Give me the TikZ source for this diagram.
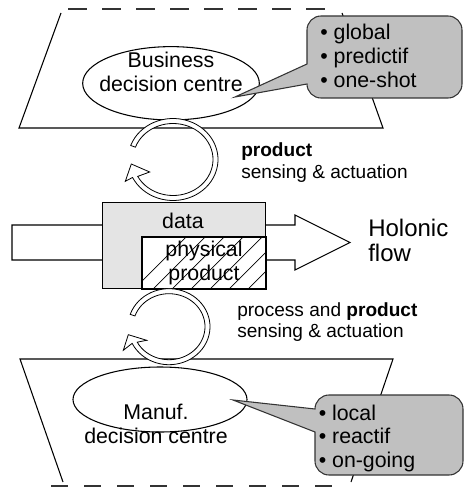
\documentclass[tikz,border=0pt]{standalone}
\usepackage{fontspec}
\setmainfont{Liberation Sans}
\usetikzlibrary{calc,shapes.geometric}
\definecolor{calloutgray}{RGB}{192,192,192}
\definecolor{boxgray}{RGB}{228,228,228}
\begin{document}
\begin{tikzpicture}[x=0.75pt,y=-0.75pt,
  lineS/.style={draw=black, line width=0.8pt},
  dashS/.style={draw=black!80, line width=1.2pt},
  ringS/.style={draw=black, fill=white, line width=0.6pt},
  calloutS/.style={draw=black!80, fill=calloutgray, line width=0.8pt},
  ellS/.style={ellipse, draw=black, line width=0.8pt, inner sep=0pt},
  tBig/.style={inner sep=0pt, font=\fontsize{16}{18}\selectfont},
  tLbl/.style={inner sep=0pt, anchor=base west, font=\fontsize{14.3}{16}\selectfont},
  tHol/.style={inner sep=0pt, anchor=base west, font=\fontsize{18}{20}\selectfont},
  hatchS/.style={draw=black, line width=0.6pt}
]
\useasboundingbox (0,0) rectangle (464,488);

% top trapezoid
\draw[lineS] (61,13) -- (19,128) -- (383,128) -- (342,13);
\draw[dashS, dash pattern=on 14.25pt off 11.25pt] (68,9) -- (326,9);
% bottom trapezoid
\draw[lineS] (63,482) -- (20,359) -- (393,359) -- (351,482);
\draw[dashS, dash pattern=on 12.75pt off 12pt] (51,486) -- (332,486);

% ellipses
\node[ellS, minimum width=132.5pt, minimum height=55pt] (bdc) at (171,83.3) {};
\node[tBig, anchor=base] (bdcA) at (171,68) {Business};
\node[tBig, anchor=base] (bdcB) at (171,92) {decision centre};
\node[ellS, minimum width=130.5pt, minimum height=48.75pt] (mdc) at (160,399.5) {};
\node[tBig, anchor=base] (mdcA) at (156,419) {Manuf.};
\node[tBig, anchor=base] (mdcB) at (156,443.3) {decision centre};

% holonic flow block arrow
\draw[lineS, fill=white] (12,225) -- (295,225) -- (295,215) -- (350,242.5) -- (295,270) -- (295,260) -- (12,260) -- cycle;
\node[draw=black, line width=0.8pt, fill=boxgray, anchor=north west, minimum width=122.25pt, minimum height=64.7pt, inner sep=0pt] (databox) at (102,201.7) {};
\node[draw=black, line width=0.8pt, fill=white, anchor=north west, minimum width=92.25pt, minimum height=38.25pt, inner sep=0pt] (phys) at (142,237) {};
\begin{scope}
\clip (phys.south west) rectangle (phys.north east);
\foreach \i in {0,...,9} \draw[hatchS] ($(phys.south west)+(\i*19-8,0)$) -- ++(70,-70);
\end{scope}
\draw[line width=0.8pt] (phys.south west) rectangle (phys.north east);
\node[tBig, anchor=base] (dataT) at (183,228.3) {data};
\node[tBig, anchor=base] (physA) at (204,256.7) {physical};
\node[tBig, anchor=base] (physB) at (204,280.7) {product};
\node[tHol] (holA) at (368,236) {Holonic};
\node[tHol] (holB) at (368,261.7) {flow};

% labels
\node[tLbl] (labA1) at (241,157) {\textbf{product}};
\node[tLbl] (labA2) at (241,178.3) {sensing \& actuation};
\node[tLbl] (labB1) at (237,316) {process and \textbf{product}};
\node[tLbl] (labB2) at (237,337.3) {sensing \& actuation};

% circular arrows
\coordinate (c1) at (173,159.5);
\path[ringS] ($(c1)+(200:45 and 41)$) arc[start angle=200, end angle=514, x radius=45, y radius=41]
  -- (125.3,181.3) -- (131.3,164) -- (149.7,172)
  -- ($(c1)+(512:40 and 36)$) arc[start angle=512, end angle=200, x radius=40, y radius=36] -- cycle;
\coordinate (c2) at (169,326.7);
\path[ringS] ($(c2)+(199:41 and 38)$) arc[start angle=199, end angle=514, x radius=41, y radius=38]
  -- (123.3,350.3) -- (128.3,334.7) -- (146.7,340.3)
  -- ($(c2)+(512:36 and 33)$) arc[start angle=512, end angle=199, x radius=36, y radius=33] -- cycle;

% callouts
\draw[calloutS] (321,16) -- (448,16) arc(270:360:14) -- (462,84) arc(0:90:14) -- (321,98) arc(90:180:14)
  -- (235,97) -- (307,64) -- (307,30) arc(180:270:14) -- cycle;
\node[tBig, anchor=base west] (g1) at (320,40) {• global};
\node[tBig, anchor=base west] (g2) at (320,64) {• predictif};
\node[tBig, anchor=base west] (g3) at (320,88) {• one-shot};

\draw[calloutS] (329,395) -- (449,395) arc(270:360:14) -- (463,461) arc(0:90:14) -- (329,475) arc(90:180:14)
  -- (315,432) -- (233,400) -- (315,409) arc(180:270:14) -- cycle;
\node[tBig, anchor=base west] (l1) at (318.5,420) {• local};
\node[tBig, anchor=base west] (l2) at (318.5,443.5) {• reactif};
\node[tBig, anchor=base west] (l3) at (318.5,467) {• on-going};
\end{tikzpicture}
\end{document}
